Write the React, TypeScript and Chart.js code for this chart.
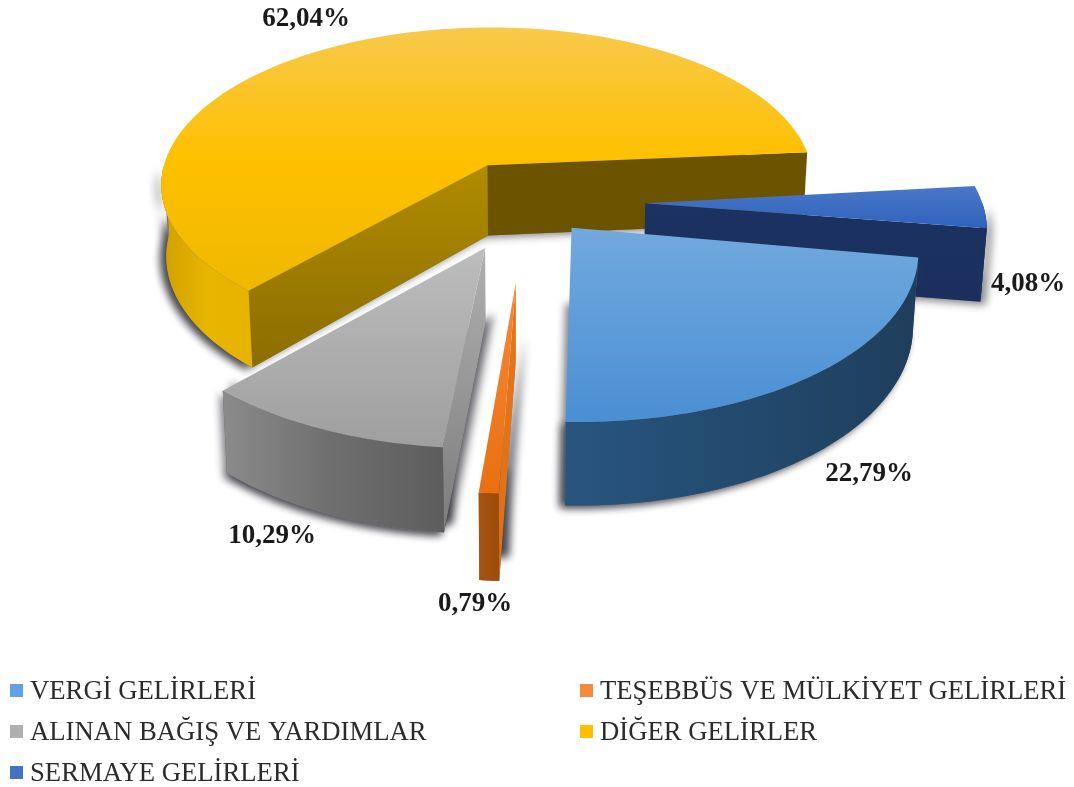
import React, { useEffect, useRef } from "react";
import { Chart, registerables } from "chart.js";

Chart.register(...registerables);

const categories = ["VERGİ GELİRLERİ", "TEŞEBBÜS VE MÜLKİYET GELİRLERİ", "ALINAN BAĞIŞ VE YARDIMLAR", "DİĞER GELİRLER", "SERMAYE GELİRLERİ"];
const shares = [22.79, 0.79, 10.29, 62.04, 4.08];
const swatchTop = ["#5fa3e0", "#f58a3a", "#b0b0b0", "#ffc000", "#4472c4"];

// Look of the 3D pie
const CX = 522, CY = 200, D = 2500, SX = 1.13, SY = 0.55, HEIGHT = 72, LEAN = 0.00019;
const explode = [65, 142, 91, 71, 109];
const tiltDeg = [1.2, 1.6, 1.8, 1.2, 0];
const radiusFactor = [1, 1, 1, 0.985, 1];
const nudge = [[1, 0], [0, 0], [3, 0], [2, -1], [0, 2]];
const drawOrder = [3, 4, 2, 0, 1];
const topStops = [
  ["#72a9de", "#4a8fd3"],
  ["#f58a3a", "#ea6f12"],
  ["#bdbdbd", "#9f9f9f"],
  ["#f8c94c", "#ffc000", "#eeb900"],
  ["#4a78c8", "#2f62bc"],
];
const outerStops = [
  ["#28557f", "#234a6e", "#1f3e5c"],
  ["#a9530f", "#9c4c0d"],
  ["#8b8b8b", "#6e6e6e", "#5d5d5d"],
  ["#cfa000", "#e8b500", "#e6b400"],
  ["#1b3263", "#1a2f5c"],
];
const startWall = [null, ["#e6761c", "#e07016"], ["#b0b0b0", "#7c7c7c"], ["#b08c00", "#8c6d00"], null];
const endWall = [null, null, null, ["#6b5300", "#6b5300"], ["#1b3262", "#1a2f5c"]];
const shadows = [[[-5, 2]], [[9, -24]], [[-3, 3], [8, -8]], [[-5, 2]], [[5, 3]]];
const labelPos = [[869, 474], [475, 604], [272, 536], [306, 19], [1028, 284]];
const legendPos = [[10, 690], [580, 690], [10, 731], [580, 731], [10, 772]];

function project(u: number, v: number, h: number) {
  const w = 1 - v / D;
  const x = CX + (SX * u) / w;
  const y = CY + (SY * v) / w + h / w;
  return [CX + (x - CX) * (1 - LEAN * h), y];
}

function grad(ctx: CanvasRenderingContext2D, stops: string[], x0: number, y0: number, x1: number, y1: number) {
  const g = ctx.createLinearGradient(x0, y0, x1, y1);
  stops.forEach((c, i) => g.addColorStop(i / (stops.length - 1 || 1), c));
  return g;
}

function poly(ctx: CanvasRenderingContext2D, pts: number[][]) {
  ctx.beginPath();
  pts.forEach((p, i) => (i ? ctx.lineTo(p[0], p[1]) : ctx.moveTo(p[0], p[1])));
  ctx.closePath();
}

function bbox(pts: number[][]) {
  const xs = pts.map((p) => p[0]), ys = pts.map((p) => p[1]);
  return [Math.min(...xs), Math.min(...ys), Math.max(...xs), Math.max(...ys)];
}

const pie3d = {
  id: "pie3d",
  beforeDatasetDraw(chart: any) {
    const ctx: CanvasRenderingContext2D = chart.ctx;
    const arcs = chart.getDatasetMeta(0).data;
    ctx.save();
    for (const i of drawOrder) {
      const arc = arcs[i];
      const R = arc.outerRadius * radiusFactor[i];
      const tilt = (tiltDeg[i] * Math.PI) / 180;
      const a0 = arc.startAngle + tilt, a1 = arc.endAngle + tilt, mid = (arc.startAngle + arc.endAngle) / 2;
      const ou = Math.cos(mid) * explode[i], ov = Math.sin(mid) * explode[i];
      const at = (t: number, r: number, h: number) => {
        const p = project(ou + Math.cos(t) * r, ov + Math.sin(t) * r, h);
        return [p[0] + nudge[i][0], p[1] + nudge[i][1]];
      };
      const n = Math.max(4, Math.ceil((a1 - a0) * 40));
      const ang: number[] = [];
      for (let k = 0; k <= n; k++) ang.push(a0 + ((a1 - a0) * k) / n);
      const rim = ang.map((t) => at(t, R, 0));
      const topPoly = [at(mid, 0, 0), ...rim];
      const silhouette = (dx: number, dy: number) => {
        ctx.save();
        ctx.shadowColor = "rgba(30,30,40,0.6)";
        ctx.shadowBlur = 8;
        ctx.shadowOffsetX = dx;
        ctx.shadowOffsetY = dy;
        ctx.fillStyle = "#777";
        const bottom = [at(mid, 0, HEIGHT), ...ang.map((t) => at(t, R, HEIGHT))];
        poly(ctx, bottom);
        ctx.fill();
        const front = ang.filter((t) => Math.sin(t) > 0);
        if (front.length > 1) {
          poly(ctx, [...front.map((t) => at(t, R, 0)), ...front.slice().reverse().map((t) => at(t, R, HEIGHT))]);
          ctx.fill();
        }
        ctx.restore();
      };
      shadows[i].forEach((s) => silhouette(s[0], s[1]));

      const wall = (t: number, stops: string[]) => {
        const p = [at(mid, 0, 0), at(t, R, 0), at(t, R, HEIGHT), at(mid, 0, HEIGHT)];
        const b = bbox(p);
        ctx.fillStyle = grad(ctx, stops, 0, b[1], 0, b[3]);
        poly(ctx, p);
        ctx.fill();
      };
      if (startWall[i]) wall(a0, startWall[i] as string[]);
      if (endWall[i]) wall(a1, endWall[i] as string[]);

      const front = ang.filter((t) => Math.sin(t) > -0.02);
      if (front.length > 1) {
        const p = [...front.map((t) => at(t, R, 0)), ...front.slice().reverse().map((t) => at(t, R, HEIGHT))];
        const b = bbox(p);
        ctx.fillStyle = grad(ctx, outerStops[i], b[0], 0, b[2], 0);
        poly(ctx, p);
        ctx.fill();
      }
      const b = bbox(topPoly);
      ctx.fillStyle = grad(ctx, topStops[i], 0, b[1], 0, b[3]);
      poly(ctx, topPoly);
      ctx.fill();
    }
    ctx.restore();
    return false;
  },
  afterDraw(chart: any) {
    const ctx: CanvasRenderingContext2D = chart.ctx;
    ctx.save();
    ctx.textBaseline = "middle";
    ctx.textAlign = "center";
    ctx.font = "bold 27px 'Liberation Serif'";
    ctx.fillStyle = "#1a1a1a";
    shares.forEach((v, i) => {
      ctx.fillText(v.toFixed(2).replace(".", ",") + "%", labelPos[i][0], labelPos[i][1]);
    });
    ctx.textAlign = "left";
    ctx.font = "26.7px 'Liberation Serif'";
    categories.forEach((c, i) => {
      const [x, y] = legendPos[i];
      ctx.fillStyle = swatchTop[i];
      ctx.fillRect(x, y - 6, 13, 13);
      ctx.fillStyle = "#2b2b2b";
      ctx.fillText(c, x + 20, y + 2);
    });
    ctx.restore();
  },
};

export default function App() {
  const ref = useRef<HTMLCanvasElement | null>(null);
  useEffect(() => {
    const chart = new Chart(ref.current as HTMLCanvasElement, {
      type: "pie",
      data: {
        labels: categories,
        datasets: [{ data: shares, backgroundColor: swatchTop, borderWidth: 0, radius: 298 } as any],
      },
      options: {
        animation: false,
        responsive: false,
        rotation: 98.6,
        plugins: { legend: { display: false }, tooltip: { enabled: false } },
      } as any,
      plugins: [pie3d],
    });
    return () => chart.destroy();
  }, []);
  return (
    <div style={{ position: "absolute", left: 0, top: 0, width: 1074, height: 787, background: "#fff" }}>
      <canvas ref={ref} width={1074} height={787} style={{ display: "block" }} />
    </div>
  );
}
